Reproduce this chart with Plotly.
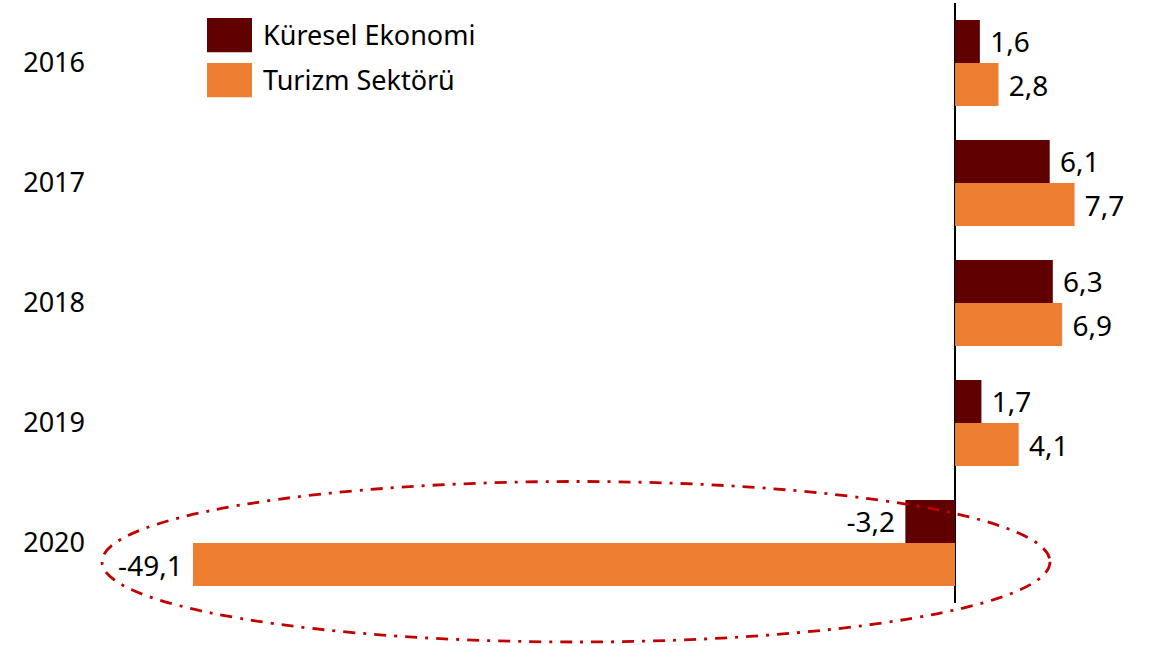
import plotly.graph_objects as go

years = ["2016", "2017", "2018", "2019", "2020"]
kuresel = [1.6, 6.1, 6.3, 1.7, -3.2]
turizm = [2.8, 7.7, 6.9, 4.1, -49.1]
series_names = ["Küresel Ekonomi", "Turizm Sektörü"]
colors = ["#600000", "#ED7D31"]

FONT = "Noto Sans"

def label(v):
    s = f"{v:.1f}".replace(".", ",")
    return ("\u00a0" + s) if v >= 0 else (s + "\u00a0")

fig = go.Figure()
for name, vals, col in zip(series_names, [kuresel, turizm], colors):
    fig.add_trace(go.Bar(
        y=years, x=vals, name=name, orientation="h",
        marker=dict(color=col, line=dict(width=0)),
        text=[label(v) for v in vals], textposition="outside",
        textfont=dict(family=FONT, size=28, color="#000000"),
        cliponaxis=False, showlegend=False,
    ))

# custom legend (large swatches)
legend_rows = [(0.918, 0.975, 0.9467), (0.843, 0.900, 0.8717)]
for (y0, y1, yc), name, col in zip(legend_rows, series_names, colors):
    fig.add_shape(type="rect", xref="paper", yref="paper",
                  x0=0.107, x1=0.152, y0=y0, y1=y1,
                  fillcolor=col, line=dict(width=0))
    fig.add_annotation(xref="paper", yref="paper", x=0.161, y=yc,
                       text=name, showarrow=False, xanchor="left", yanchor="middle",
                       font=dict(family=FONT, size=27, color="#000000"))

# highlight ellipse around 2020
fig.add_shape(type="circle", xref="paper", yref="paper",
              x0=0.002, x1=0.95, y0=-0.065, y1=0.2025,
              line=dict(color="#C00000", width=2.8, dash="12px,8px,3px,8px"))

fig.update_layout(
    width=1151, height=646,
    margin=dict(l=100, r=51, t=3, b=43),
    paper_bgcolor="white", plot_bgcolor="white",
    barmode="group", bargap=0.283, bargroupgap=0,
    separators=",.",
    font=dict(family=FONT, color="#000000"),
    showlegend=False,
    xaxis=dict(range=[-55.09, 9.34], showgrid=False, showticklabels=False,
               zeroline=True, zerolinecolor="#000000", zerolinewidth=2,
               fixedrange=True),
    yaxis=dict(autorange="reversed", showgrid=False, showline=False,
               ticks="", ticklabelstandoff=14, fixedrange=True,
               tickfont=dict(family=FONT, size=27, color="#000000"),
               categoryorder="array", categoryarray=years),
)

fig.write_html("out.html", config={"displayModeBar": False},
               post_script="document.body.style.margin='0';document.body.style.overflow='hidden';")
